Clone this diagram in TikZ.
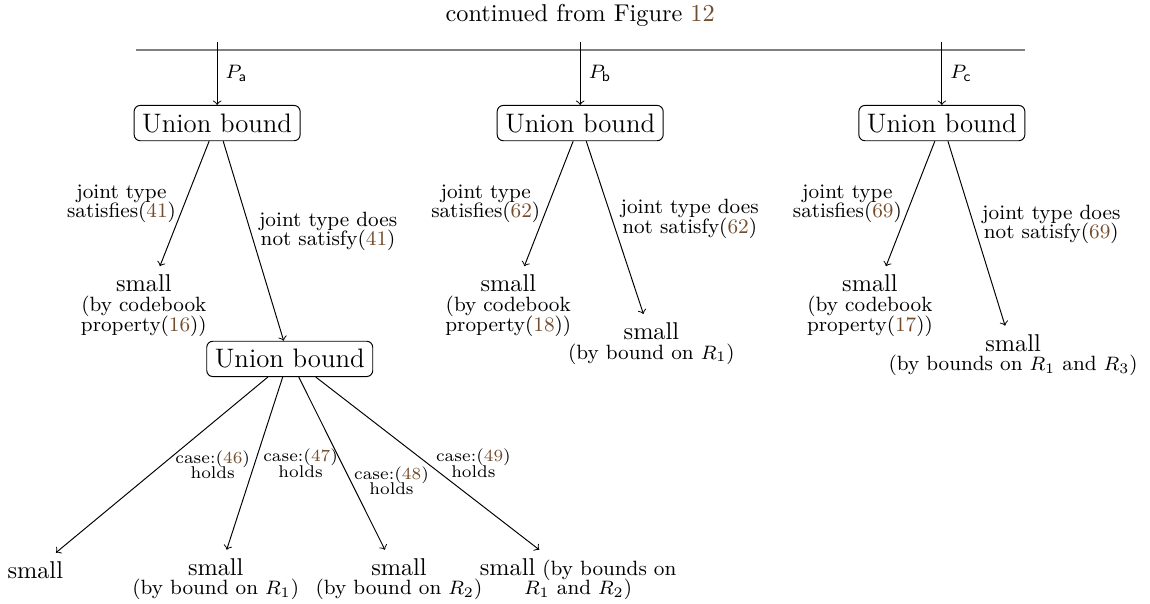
\documentclass[tikz,border=0pt]{standalone}
\definecolor{linkbrown}{rgb}{0.45,0.30,0.17}
\newcommand{\refno}[1]{(\textcolor{linkbrown}{#1})}
\setlength{\lineskiplimit}{-10pt}
\tikzset{
    ubox/.style={draw, rounded corners=2.5pt, font=\fontsize{11}{13}\selectfont},
    leaf/.style={align=center, font=\fontsize{8.5}{8.1}\selectfont},
    lab/.style={align=center, font=\fontsize{8.5}{7.9}\selectfont},
    caselab/.style={align=center, font=\fontsize{7}{6.4}\selectfont}
}
\begin{document}
\begin{tikzpicture}[>=to]
    \useasboundingbox (0,0) rectangle (16.63,8.72);
    \node (title) at (8.39,8.50){continued from Figure \textcolor{linkbrown}{12}};
    \coordinate (barL) at (1.97,8.00);
    \coordinate (barR) at (14.82,8.00);
    \draw [gray, line width=.8pt] (barL)--(barR);
    \foreach \n/\x/\s in {A/3.14/a, B/8.39/b, C/13.62/c}
    {
        \node [ubox] (ub\n) at (\x,6.94){Union bound};
        \coordinate (in\n) at (\x,8.11);
        \draw [->] (in\n)--node [lab, right]{$P_{\mathsf{\s}}$}(ub\n);
    }
    % left branch
    \node [leaf, anchor=north] (smA) at (2.08,4.87){{\normalsize small}\\(by codebook\\property\refno{16})};
    \node [ubox] (ubD) at (4.19,3.53){Union bound};
    \draw [->] ([xshift=-3.3pt]ubA.south)--node [lab, left]{joint type\\satisfies\refno{41}}([xshift=6.6pt]smA.north);
    \draw [->] ([xshift=2.5pt]ubA.south)--node [lab, right, pos=.45]{joint type does\\not satisfy\refno{41}}([xshift=-2.5pt]ubD.north);
    % middle branch
    \node [leaf, anchor=north] (smB1) at (7.35,4.87){{\normalsize small}\\(by codebook\\property\refno{18})};
    \node [leaf, anchor=north] (smB2) at (9.42,4.18){{\normalsize small}\\(by bound on $R_1$)};
    \draw [->] ([xshift=-2.9pt]ubB.south)--node [lab, left]{joint type\\satisfies\refno{62}}([xshift=6.6pt]smB1.north);
    \draw [->] ([xshift=2.5pt]ubB.south)--node [lab, right, pos=.45]{joint type does\\not satisfy\refno{62}}([xshift=-3.3pt]smB2.north);
    % right branch
    \node [leaf, anchor=north] (smC1) at (12.58,4.87){{\normalsize small}\\(by codebook\\property\refno{17})};
    \node [leaf, anchor=north] (smC2) at (14.65,4.01){{\normalsize small}\\(by bounds on $R_1$ and $R_3$)};
    \draw [->] ([xshift=-2.9pt]ubC.south)--node [lab, left]{joint type\\satisfies\refno{69}}([xshift=6.6pt]smC1.north);
    \draw [->] ([xshift=2.5pt]ubC.south)--node [lab, right, pos=.45]{joint type does\\not satisfy\refno{69}}([xshift=-3.3pt]smC2.north);
    % cases below the second union bound
    \node (smD1) at (0.51,0.48){small};
    \node [leaf, anchor=north] (smD2) at (3.12,0.77){{\normalsize small}\\(by bound on $R_1$)};
    \node [leaf, anchor=north] (smD3) at (5.77,0.77){{\normalsize small}\\(by bound on $R_2$)};
    \node [leaf, anchor=north] (smD4) at (8.36,0.77){{\normalsize small} (by bounds on\\$R_1$ and $R_2$)};
    \draw [->] ([xshift=-9pt]ubD.south)--node [caselab, right, xshift=2pt]{case:\refno{46}\\holds}(smD1);
    \draw [->] ([xshift=-2.9pt]ubD.south)--node [caselab, right]{case:\refno{47}\\holds}([xshift=4.5pt]smD2.north);
    \draw [->] ([xshift=3.7pt]ubD.south)--node [caselab, right, pos=.6, xshift=-2pt]{case:\refno{48}\\holds}([xshift=-5.8pt]smD3.north);
    \draw [->] ([xshift=10.7pt]ubD.south)--node [caselab, right]{case:\refno{49}\\holds}([xshift=-16pt]smD4.north);
\end{tikzpicture}
\end{document}
